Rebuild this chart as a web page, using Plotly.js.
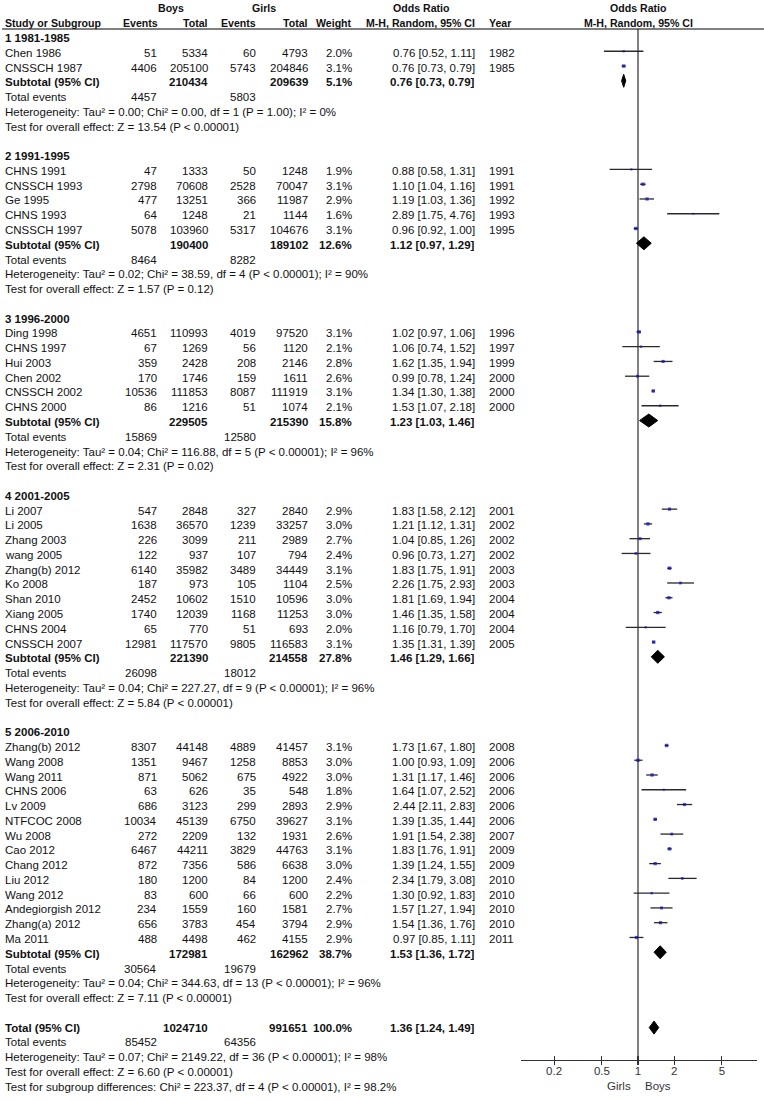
<!DOCTYPE html>
<html>
<head>
<meta charset="utf-8">
<script src="https://cdn.plot.ly/plotly-3.0.1.min.js"></script>
<style>html,body{margin:0;padding:0;background:#fff;}#chart{width:764px;height:1101px;}</style>
</head>
<body>
<div id="chart"></div>
<script>
// ---------------- DATA ----------------
const groupLabels = ["1 1981-1985", "2 1991-1995", "3 1996-2000", "4 2001-2005", "5 2006-2010"];

const studyNames = [
  "Chen 1986", "CNSSCH 1987",
  "CHNS 1991", "CNSSCH 1993", "Ge 1995", "CHNS 1993", "CNSSCH 1997",
  "Ding 1998", "CHNS 1997", "Hui 2003", "Chen 2002", "CNSSCH 2002", "CHNS 2000",
  "Li 2007", "Li 2005", "Zhang 2003", "wang 2005", "Zhang(b) 2012", "Ko 2008", "Shan 2010", "Xiang 2005", "CHNS 2004", "CNSSCH 2007",
  "Zhang(b) 2012", "Wang 2008", "Wang 2011", "CHNS 2006", "Lv 2009", "NTFCOC 2008", "Wu 2008", "Cao 2012", "Chang 2012", "Liu 2012", "Wang 2012", "Andegiorgish 2012", "Zhang(a) 2012", "Ma 2011"
];
const studyGroup = [0,0, 1,1,1,1,1, 2,2,2,2,2,2, 3,3,3,3,3,3,3,3,3,3, 4,4,4,4,4,4,4,4,4,4,4,4,4,4];
const boysEvents = [51,4406, 47,2798,477,64,5078, 4651,67,359,170,10536,86, 547,1638,226,122,6140,187,2452,1740,65,12981, 8307,1351,871,63,686,10034,272,6467,872,180,83,234,656,488];
const boysTotal = [5334,205100, 1333,70608,13251,1248,103960, 110993,1269,2428,1746,111853,1216, 2848,36570,3099,937,35982,973,10602,12039,770,117570, 44148,9467,5062,626,3123,45139,2209,44211,7356,1200,600,1559,3783,4498];
const girlsEvents = [60,5743, 50,2528,366,21,5317, 4019,56,208,159,8087,51, 327,1239,211,107,3489,105,1510,1168,51,9805, 4889,1258,675,35,299,6750,132,3829,586,84,66,160,454,462];
const girlsTotal = [4793,204846, 1248,70047,11987,1144,104676, 97520,1120,2146,1611,111919,1074, 2840,33257,2989,794,34449,1104,10596,11253,693,116583, 41457,8853,4922,548,2893,39627,1931,44763,6638,1200,600,1581,3794,4155];
const weights = [2.0,3.1, 1.9,3.1,2.9,1.6,3.1, 3.1,2.1,2.8,2.6,3.1,2.1, 2.9,3.0,2.7,2.4,3.1,2.5,3.0,3.0,2.0,3.1, 3.1,3.0,3.0,1.8,2.9,3.1,2.6,3.1,3.0,2.4,2.2,2.7,2.9,2.9];
const orEst = [0.76,0.76, 0.88,1.10,1.19,2.89,0.96, 1.02,1.06,1.62,0.99,1.34,1.53, 1.83,1.21,1.04,0.96,1.83,2.26,1.81,1.46,1.16,1.35, 1.73,1.00,1.31,1.64,2.44,1.39,1.91,1.83,1.39,2.34,1.30,1.57,1.54,0.97];
const orLo = [0.52,0.73, 0.58,1.04,1.03,1.75,0.92, 0.97,0.74,1.35,0.78,1.30,1.07, 1.58,1.12,0.85,0.73,1.75,1.75,1.69,1.35,0.79,1.31, 1.67,0.93,1.17,1.07,2.11,1.35,1.54,1.76,1.24,1.79,0.92,1.27,1.36,0.85];
const orHi = [1.11,0.79, 1.31,1.16,1.36,4.76,1.00, 1.06,1.52,1.94,1.24,1.38,2.18, 2.12,1.31,1.26,1.27,1.91,2.93,1.94,1.58,1.70,1.39, 1.80,1.09,1.46,2.52,2.83,1.44,2.38,1.91,1.55,3.08,1.83,1.94,1.76,1.11];
const years = [1982,1985, 1991,1991,1992,1993,1995, 1996,1997,1999,2000,2000,2000, 2001,2002,2002,2002,2003,2003,2004,2004,2004,2005, 2008,2006,2006,2006,2006,2006,2007,2009,2009,2010,2010,2010,2010,2011];

const subBoysTotal = [210434, 190400, 229505, 221390, 172981];
const subGirlsTotal = [209639, 189102, 215390, 214558, 162962];
const subWeight = [5.1, 12.6, 15.8, 27.8, 38.7];
const subEst = [0.76, 1.12, 1.23, 1.46, 1.53];
const subLo = [0.73, 0.97, 1.03, 1.29, 1.36];
const subHi = [0.79, 1.29, 1.46, 1.66, 1.72];
const subBoysEvents = [4457, 8464, 15869, 26098, 30564];
const subGirlsEvents = [5803, 8282, 12580, 18012, 19679];
const subHet = [
  "Heterogeneity: Tau² = 0.00; Chi² = 0.00, df = 1 (P = 1.00); I² = 0%",
  "Heterogeneity: Tau² = 0.02; Chi² = 38.59, df = 4 (P < 0.00001); I² = 90%",
  "Heterogeneity: Tau² = 0.04; Chi² = 116.88, df = 5 (P < 0.00001); I² = 96%",
  "Heterogeneity: Tau² = 0.04; Chi² = 227.27, df = 9 (P < 0.00001); I² = 96%",
  "Heterogeneity: Tau² = 0.04; Chi² = 344.63, df = 13 (P < 0.00001); I² = 96%"
];
const subTest = [
  "Test for overall effect: Z = 13.54 (P < 0.00001)",
  "Test for overall effect: Z = 1.57 (P = 0.12)",
  "Test for overall effect: Z = 2.31 (P = 0.02)",
  "Test for overall effect: Z = 5.84 (P < 0.00001)",
  "Test for overall effect: Z = 7.11 (P < 0.00001)"
];

const totBoysTotal = 1024710, totGirlsTotal = 991651, totWeight = 100.0;
const totEst = 1.36, totLo = 1.24, totHi = 1.49;
const totBoysEvents = 85452, totGirlsEvents = 64356;
const totalLines = [
  "Heterogeneity: Tau² = 0.07; Chi² = 2149.22, df = 36 (P < 0.00001); I² = 98%",
  "Test for overall effect: Z = 6.60 (P < 0.00001)",
  "Test for subgroup differences: Chi² = 223.37, df = 4 (P < 0.00001), I² = 98.2%"
];
const tickVals = [0.2, 0.5, 1, 2, 5];
const tickLabels = ["0.2", "0.5", "1", "2", "5"];
const favourLeft = "Girls", favourRight = "Boys";

// ---------------- LAYOUT HELPERS ----------------
const W = 764, H = 1101;
const FONT = "'Liberation Sans', Arial, sans-serif";
const TXT = "#111";
const FS = 11.5;
const base = 38, pitch = 14.77;
const rowY = i => base + i * pitch;
const col = { name: 3, bE: 159, bT: 210, gE: 258, gT: 310, wt: 354, or: 477, yr: 487 };
const ann = [];
function t(xpx, y, text, anchor, bold, opt) {
  opt = opt || {};
  ann.push({
    xref: "paper", yref: "y", x: xpx / W, y: y, text: bold ? "<b>" + text + "</b>" : text,
    xanchor: anchor, yanchor: "middle", showarrow: false,
    font: { family: FONT, size: opt.size || FS, color: opt.color || TXT }
  });
}
const ciText = (e, l, h) => e.toFixed(2) + " [" + l.toFixed(2) + ", " + h.toFixed(2) + "]";

// header
const HS = { size: 10.6 };
t(171, 8, "Boys", "center", true, HS);
t(264, 8, "Girls", "center", true, HS);
t(421, 8, "Odds Ratio", "center", true, HS);
t(638, 8, "Odds Ratio", "center", true, HS);
t(col.name, 23, "Study or Subgroup", "left", true, HS);
t(col.bE + 1, 23, "Events", "right", true, HS);
t(col.bT, 23, "Total", "right", true, HS);
t(col.gE, 23, "Events", "right", true, HS);
t(col.gT, 23, "Total", "right", true, HS);
t(col.wt, 23, "Weight", "right", true, HS);
t(col.or, 23, "M-H, Random, 95% CI", "right", true, HS);
t(col.yr, 23, "Year", "left", true, HS);
t(638, 23, "M-H, Random, 95% CI", "center", true, HS);

// rows
const ciX = [], ciY = [], sqX = [], sqY = [], sqS = [];
const diamonds = [];
let r = 0;
for (let g = 0; g < groupLabels.length; g++) {
  t(col.name, rowY(r), groupLabels[g], "left", true); r++;
  for (let i = 0; i < studyNames.length; i++) {
    if (studyGroup[i] !== g) continue;
    const y = rowY(r);
    t(col.name, y, studyNames[i], "left");
    t(col.bE, y, String(boysEvents[i]), "right");
    t(col.bT, y, String(boysTotal[i]), "right");
    t(col.gE, y, String(girlsEvents[i]), "right");
    t(col.gT, y, String(girlsTotal[i]), "right");
    t(col.wt, y, weights[i].toFixed(1) + "%", "right");
    t(col.or, y, ciText(orEst[i], orLo[i], orHi[i]), "right");
    t(col.yr, y, String(years[i]), "left");
    ciX.push(orLo[i], orHi[i], null); ciY.push(y - 1.5, y - 1.5, null);
    sqX.push(orEst[i]); sqY.push(y - 1.5); sqS.push(1.1 * weights[i]);
    r++;
  }
  let y = rowY(r);
  t(col.name, y, "Subtotal (95% CI)", "left", true);
  t(col.bT, y, String(subBoysTotal[g]), "right", true);
  t(col.gT, y, String(subGirlsTotal[g]), "right", true);
  t(col.wt, y, subWeight[g].toFixed(1) + "%", "right", true);
  t(col.or, y, ciText(subEst[g], subLo[g], subHi[g]), "right", true);
  diamonds.push([subLo[g], subEst[g], subHi[g], y - 1.5]);
  r++;
  y = rowY(r);
  t(col.name, y, "Total events", "left");
  t(col.bE, y, String(subBoysEvents[g]), "right");
  t(col.gE, y, String(subGirlsEvents[g]), "right");
  r++;
  t(col.name, rowY(r), subHet[g], "left"); r++;
  t(col.name, rowY(r), subTest[g], "left"); r++;
  r++; // blank
}
let y = rowY(r);
t(col.name, y, "Total (95% CI)", "left", true);
t(col.bT, y, String(totBoysTotal), "right", true);
t(col.gT, y, String(totGirlsTotal), "right", true);
t(col.wt, y, totWeight.toFixed(1) + "%", "right", true);
t(col.or, y, ciText(totEst, totLo, totHi), "right", true);
diamonds.push([totLo, totEst, totHi, y]);
r++;
y = rowY(r);
t(col.name, y, "Total events", "left");
t(col.bE, y, String(totBoysEvents), "right");
t(col.gE, y, String(totGirlsEvents), "right");
r++;
for (const line of totalLines) { t(col.name, rowY(r), line, "left"); r++; }

const axisY = 1060;
t(633, 1086, favourLeft, "right", false, { color: "#333" });
t(643, 1086, favourRight, "left", false, { color: "#333" });

// ---------------- TRACES ----------------
const traces = [];
traces.push({ x: [1, 1], y: [29, axisY], mode: "lines", line: { color: "#808080", width: 2 }, hoverinfo: "skip", showlegend: false });
traces.push({ x: ciX, y: ciY, mode: "lines", line: { color: "#2a2a2a", width: 1.3 }, hoverinfo: "skip", showlegend: false });
traces.push({ x: sqX, y: sqY, mode: "markers", marker: { symbol: "square", size: sqS, color: "#0c0cb0", line: { width: 0 } }, hoverinfo: "skip", showlegend: false });
const hh = 6.5;
for (const d of diamonds) {
  traces.push({ x: [d[0], d[1], d[2], d[1], d[0]], y: [d[3], d[3] - hh, d[3], d[3] + hh, d[3]], mode: "lines", fill: "toself", fillcolor: "#000", line: { color: "#000", width: 1 }, hoverinfo: "skip", showlegend: false });
}
traces.push({ x: [1], y: [-50], xaxis: "x2", mode: "markers", marker: { opacity: 0 }, hoverinfo: "skip", showlegend: false });

const X0 = 638, PXDEC = 120, xL = 521, xR = 757;
const xRange = [(xL - X0) / PXDEC, (xR - X0) / PXDEC];
const axPos = (H - axisY) / H;
const layout = {
  width: W, height: H, margin: { l: 0, r: 0, t: 0, b: 0 },
  paper_bgcolor: "#fff", plot_bgcolor: "rgba(0,0,0,0)",
  showlegend: false,
  xaxis: {
    type: "log", domain: [xL / W, xR / W], range: xRange, anchor: "free", position: axPos,
    showline: true, linecolor: "#333", linewidth: 1.2, ticks: "inside", ticklen: 4, tickwidth: 1.2, tickcolor: "#333",
    tickmode: "array", tickvals: tickVals, ticktext: tickLabels, showgrid: false, zeroline: false,
    tickfont: { family: FONT, size: FS, color: "#333" }
  },
  xaxis2: {
    type: "log", overlaying: "x", range: xRange, anchor: "free", position: axPos,
    showline: false, ticks: "outside", ticklen: 4, tickwidth: 1.2, tickcolor: "#333",
    tickmode: "array", tickvals: tickVals, showticklabels: false, showgrid: false, zeroline: false
  },
  yaxis: { domain: [0, 1], range: [H, 0], visible: false, showgrid: false, zeroline: false },
  shapes: [{ type: "line", xref: "paper", yref: "y", x0: 2 / W, x1: 1, y0: 29, y1: 29, line: { color: "#000", width: 1 } }],
  annotations: ann
};
Plotly.newPlot("chart", traces, layout, { staticPlot: true, displayModeBar: false });
</script>
</body>
</html>
